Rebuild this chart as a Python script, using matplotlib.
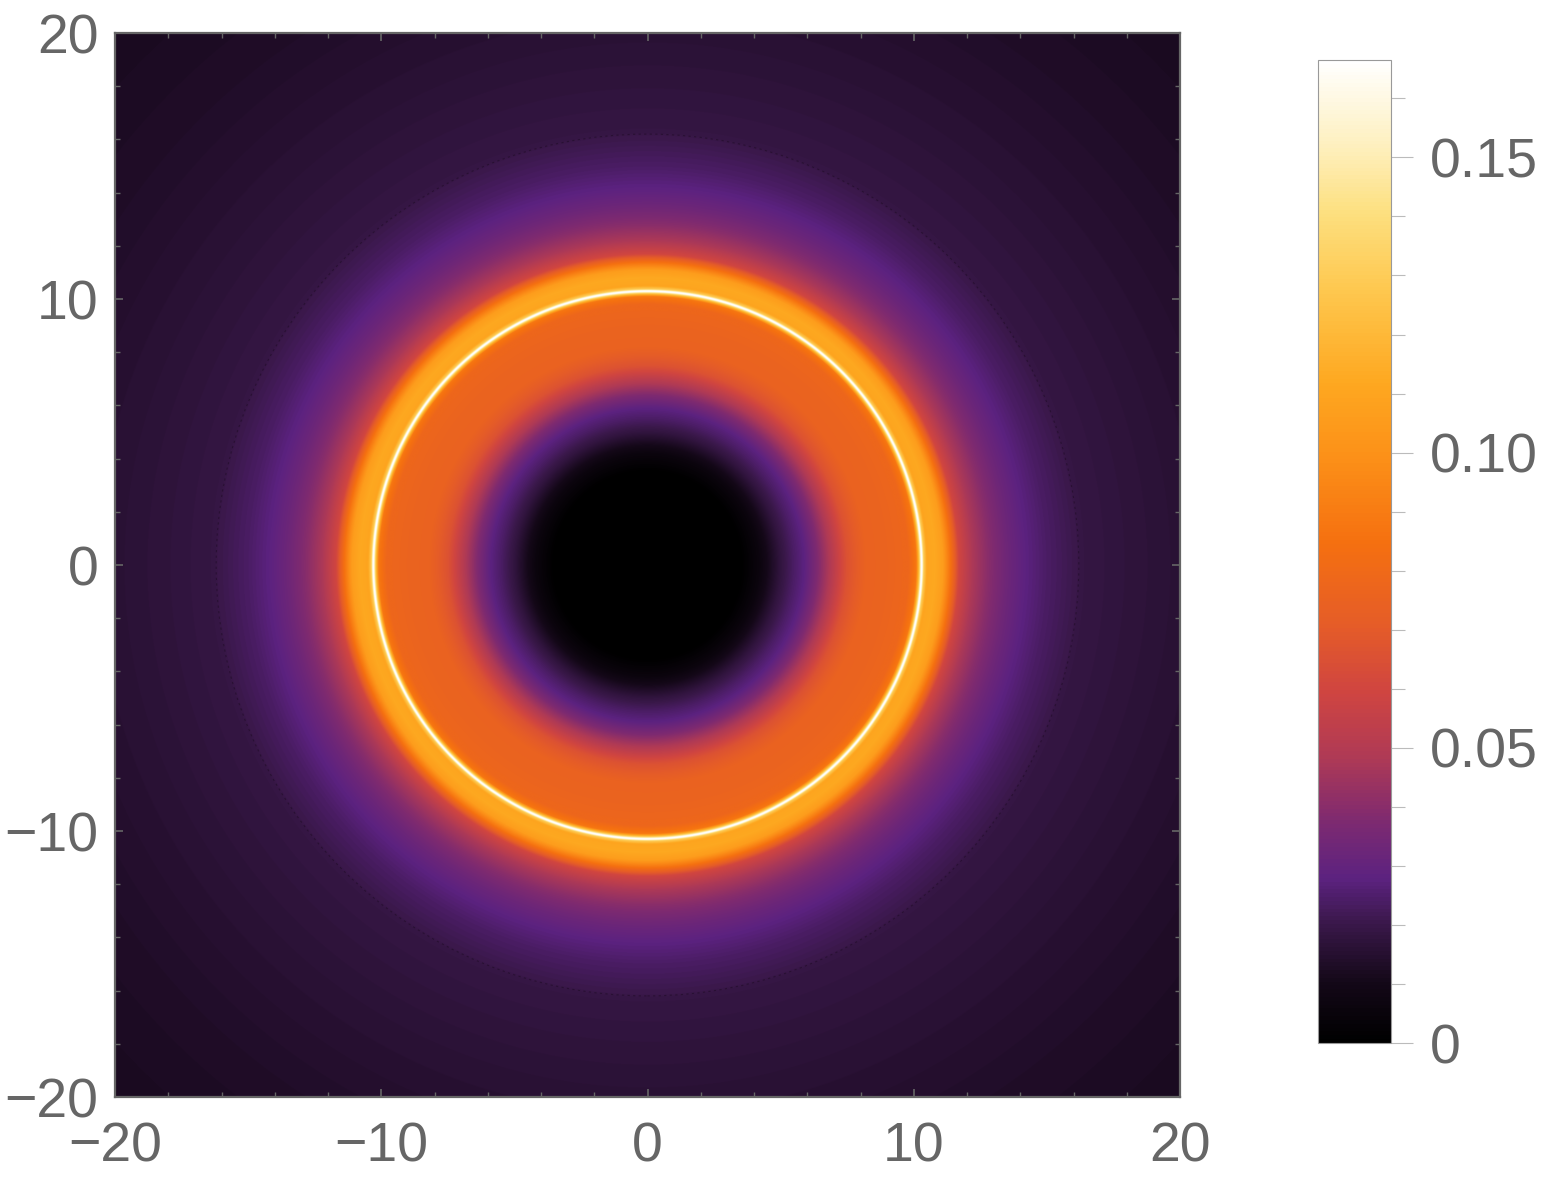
import numpy as np
import matplotlib
matplotlib.use("Agg")
import matplotlib.pyplot as plt
from matplotlib.colors import LinearSegmentedColormap
from matplotlib.patches import Circle
from matplotlib.ticker import MultipleLocator, FixedLocator

plt.rcParams['font.family'] = ['Liberation Sans', 'DejaVu Sans']

# Radial intensity profile (radius, intensity)
radius = [0, 3.5, 4.2, 5.0, 5.5, 5.9, 6.4, 6.9, 7.5, 8.2, 9.0, 9.8, 10.1, 10.22,
          10.3, 10.38, 10.5, 10.8, 11.1, 11.35, 11.7, 12.2, 12.8, 13.5, 14.2, 15.0,
          16.2, 16.25, 18.0, 20.0, 24.0, 29.0]
intensity = [0, 0, 0.006, 0.018, 0.024, 0.028, 0.038, 0.050, 0.066, 0.075, 0.076,
             0.078, 0.088, 0.13, 0.175, 0.13, 0.110, 0.112, 0.106, 0.088, 0.060,
             0.048, 0.040, 0.033, 0.028, 0.024, 0.020, 0.019, 0.0175, 0.016, 0.0135, 0.0115]

# Colour scale stops (value, colour)
cmap_values = [0, 0.0101, 0.020, 0.0277, 0.0375, 0.0485, 0.0596, 0.0706, 0.0848,
               0.0992, 0.112, 0.128, 0.141, 0.1525, 0.1665]
cmap_colors = ['#000000', '#140818', '#3a184a', '#5c2280', '#7e2a70', '#b03a55',
               '#d04540', '#e55c28', '#f57010', '#fc9018', '#fea820', '#fec850',
               '#fde080', '#fef0c0', '#ffffff']

xy_ticks = [-20, -10, 0, 10, 20]
cbar_ticks = [0, 0.05, 0.10, 0.15]
cbar_labels = ['0', '0.05', '0.10', '0.15']
shadow_edge_radius = 16.2

vmax = cmap_values[-1]
cmap = LinearSegmentedColormap.from_list(
    'sunset', list(zip(np.array(cmap_values) / vmax, cmap_colors)))

n = 2000
g = np.linspace(-20, 20, n)
X, Y = np.meshgrid(g, g)
R = np.hypot(X, Y)
Z = np.interp(R, radius, intensity)

W, H = 1568, 1183
fig = plt.figure(figsize=(W / 100, H / 100), dpi=100)
ax = fig.add_axes([115 / W, (H - 1097) / H, 1065 / W, 1064 / H])
im = ax.imshow(Z, extent=[-20, 20, -20, 20], origin='lower', cmap=cmap,
               vmin=0, vmax=vmax, interpolation='antialiased', aspect='auto')
ax.add_patch(Circle((0, 0), shadow_edge_radius, fill=False, ec='#1a0a20',
                    lw=0.8, ls=(0, (2, 3)), alpha=0.5))
ax.set_xlim(-20, 20)
ax.set_ylim(-20, 20)
gray = '#666666'
ax.set_xticks(xy_ticks)
ax.set_yticks(xy_ticks)
ax.set_xticklabels(['\u221220', '\u221210', '0', '10', '20'])
ax.set_yticklabels(['\u221220', '\u221210', '0', '10', '20'])
ax.xaxis.set_minor_locator(MultipleLocator(2))
ax.yaxis.set_minor_locator(MultipleLocator(2))
ax.tick_params(which='both', direction='in', color=gray, labelcolor=gray,
               labelsize=40, top=True, right=True)
ax.tick_params(which='major', length=6, width=1.2)
ax.tick_params(which='minor', length=3.5, width=1)
ax.tick_params(axis='x', pad=18)
ax.tick_params(axis='y', pad=12)
for s in ax.spines.values():
    s.set_color(gray)
    s.set_linewidth(1.6)

cax = fig.add_axes([1318 / W, (H - 1043) / H, 73 / W, 983 / H])
cb = fig.colorbar(im, cax=cax)
cb.set_ticks(cbar_ticks)
cb.set_ticklabels(cbar_labels)
cax.yaxis.set_minor_locator(FixedLocator([v / 100 for v in range(1, 17)]))
cax.tick_params(which='both', color='#bbbbbb', labelcolor=gray, labelsize=40)
cax.tick_params(which='major', length=16, width=0.8, pad=12)
cax.tick_params(which='minor', length=10, width=0.8)
cb.outline.set_edgecolor('#999999')
cb.outline.set_linewidth(0.8)

fig.savefig('out.png', dpi=100)
